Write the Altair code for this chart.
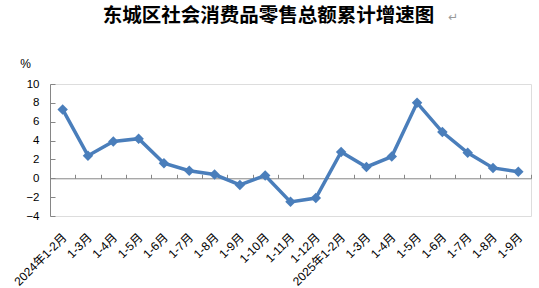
import json
import altair as alt
import pandas as pd

periods = ["2024年1-2月", "1-3月", "1-4月", "1-5月", "1-6月", "1-7月", "1-8月",
           "1-9月", "1-10月", "1-11月", "1-12月", "2025年1-2月", "1-3月", "1-4月",
           "1-5月", "1-6月", "1-7月", "1-8月", "1-9月"]
growth = [7.3, 2.4, 3.9, 4.2, 1.6, 0.8, 0.4, -0.7, 0.3, -2.5, -2.1,
          2.8, 1.2, 2.3, 8.0, 4.9, 2.7, 1.1, 0.7]
y_ticks = [-4, -2, 0, 2, 4, 6, 8, 10]
title_text = "东城区社会消费品零售总额累计增速图"

df = pd.DataFrame({"idx": list(range(len(periods))), "value": growth})

W, H = 481, 132
AX = "#868686"
BLUE = "#4A7EBB"
label_expr = json.dumps(periods, ensure_ascii=False) + "[datum.value]"
zero_off = -H * 10 / 14

xscale = alt.Scale(type="band", paddingInner=0, paddingOuter=0)
yscale = alt.Scale(domain=[-4, 10], nice=False, zero=False)

line = alt.Chart(df).mark_line(
    color=BLUE, strokeWidth=3.5,
    point=alt.OverlayMarkDef(shape="diamond", size=110, filled=True, color=BLUE, opacity=1),
).encode(
    x=alt.X("idx:O", scale=xscale, bandPosition=0.5, axis=alt.Axis(
        orient="bottom", domain=False, ticks=False, tickSize=0, labelAngle=-45,
        labelAlign="right", labelBaseline="middle", labelPadding=19, labelOffset=2,
        labelExpr=label_expr, labelFont="Liberation Sans, Noto Sans CJK SC",
        labelFontSize=12, labelColor="#000000", title=None, labelOverlap=False)),
    y=alt.Y("value:Q", scale=yscale, axis=alt.Axis(
        orient="left", values=y_ticks, domain=True, domainColor=AX, ticks=False,
        tickSize=0, labelPadding=11, grid=False, labelFont="Liberation Sans",
        labelFontSize=11.5, labelColor="#000000", title="%", titleAngle=0,
        titleX=-25, titleY=-21, titleAlign="center", titleBaseline="middle",
        titleFont="Liberation Sans", titleFontSize=12, titleFontWeight="normal",
        titleColor="#000000")),
)

frame = alt.Chart(df).mark_line(opacity=0).encode(
    x=alt.X("idx:O", scale=xscale, bandPosition=0.5, axis=alt.Axis(
        orient="top", offset=zero_off, domain=True, domainColor=AX, domainWidth=1,
        ticks=True, tickColor=AX, tickSize=4, tickBand="extent", labels=False,
        title=None, grid=False)),
    y=alt.Y("value:Q", scale=yscale, axis=alt.Axis(
        orient="right", offset=-W, values=y_ticks, domain=False, ticks=True,
        tickColor=AX, tickSize=5, labels=False, title=None, grid=False)),
)

title = alt.Chart(pd.DataFrame({"t": [title_text]})).mark_text(
    color="#000000", fontSize=19.5, font="Noto Sans CJK SC", fontWeight="bold",
    align="center", baseline="middle"
).encode(text="t:N", x=alt.value(218.5), y=alt.value(-68))

para = alt.Chart(pd.DataFrame({"t": ["↵"]})).mark_text(
    color="#9a9a9a", fontSize=12, font="DejaVu Sans", align="left", baseline="middle"
).encode(text="t:N", x=alt.value(398), y=alt.value(-67))

chart = alt.layer(line, frame, title, para).resolve_axis(
    x="independent", y="independent"
).properties(
    width=W, height=H,
    autosize=alt.AutoSizeParams(type="none"),
    padding={"left": 50, "top": 84, "right": 8, "bottom": 72},
).configure_view(stroke=None).configure(background="white")

chart.save("out.html", embed_options={"renderer": "svg", "actions": False})
